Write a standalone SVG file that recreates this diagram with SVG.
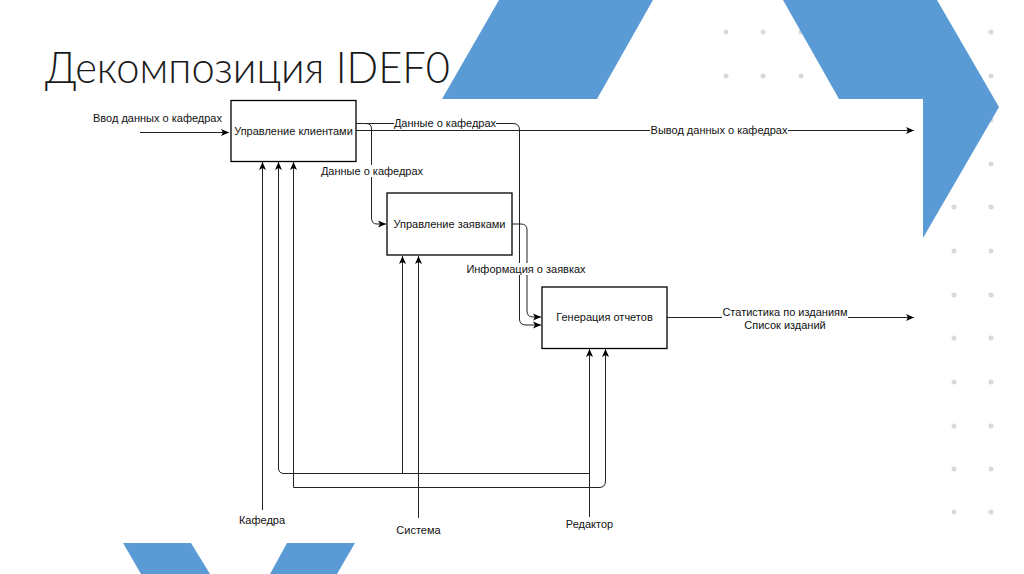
<svg xmlns="http://www.w3.org/2000/svg" width="1024" height="574" viewBox="0 0 1024 574">
<defs>
<marker id="arr" markerUnits="userSpaceOnUse" markerWidth="9" markerHeight="8" refX="8" refY="4" orient="auto">
<path d="M0,0.5 L8,4 L0,7.5 L2,4 Z" fill="#000"/>
</marker>
</defs>
<style>
.blue{fill:#5b9bd5}
.dot{fill:#d9d9d9}
.box{fill:#fff;stroke:#000;stroke-width:1.3}
.t{font-family:"Liberation Sans",Arial,sans-serif;font-size:11px;fill:#111}
.c{fill:none;stroke:#222;stroke-width:1}
.bg{fill:#fff}
</style>
<rect width="1024" height="574" fill="#fff"/>
<g id="decor">
<g id="dots">
<circle class="dot" cx="726" cy="32" r="2.5"/><circle class="dot" cx="763" cy="32" r="2.5"/><circle class="dot" cx="801" cy="32" r="2.5"/>
<circle class="dot" cx="726" cy="76" r="2.5"/><circle class="dot" cx="763" cy="76" r="2.5"/><circle class="dot" cx="801" cy="76" r="2.5"/>
<circle class="dot" cx="991" cy="32" r="2.5"/><circle class="dot" cx="991" cy="76" r="2.5"/><circle class="dot" cx="991" cy="120" r="2.5"/><circle class="dot" cx="991" cy="164" r="2.5"/>
<circle class="dot" cx="954" cy="207" r="2.5"/><circle class="dot" cx="991" cy="207" r="2.5"/>
<circle class="dot" cx="954" cy="251" r="2.5"/><circle class="dot" cx="991" cy="251" r="2.5"/>
<circle class="dot" cx="954" cy="295" r="2.5"/><circle class="dot" cx="991" cy="295" r="2.5"/>
<circle class="dot" cx="954" cy="338" r="2.5"/><circle class="dot" cx="991" cy="338" r="2.5"/>
<circle class="dot" cx="954" cy="382" r="2.5"/><circle class="dot" cx="991" cy="382" r="2.5"/>
<circle class="dot" cx="954" cy="426" r="2.5"/><circle class="dot" cx="991" cy="426" r="2.5"/>
<circle class="dot" cx="954" cy="469" r="2.5"/><circle class="dot" cx="991" cy="469" r="2.5"/>
<circle class="dot" cx="954" cy="512" r="2.5"/><circle class="dot" cx="991" cy="512" r="2.5"/>
</g>
<polygon class="blue" points="499,0 653,0 597,99 442,99"/>
<polygon class="blue" points="783,0 937,0 999,107 923,238 923,99 839,99"/>
<polygon class="blue" points="123,543 191,543 210,574 141,574"/>
<polygon class="blue" points="287,543 355,543 337,574 270,574"/>
</g>
<text id="title" x="45" y="83" font-family="Lato,'Open Sans','Liberation Sans',sans-serif" font-weight="300" font-size="44" fill="#1a1a1a" textLength="405" lengthAdjust="spacingAndGlyphs">Декомпозиция IDEF0</text>
<g id="connectors">
<path class="c" d="M140,132.5 H229" marker-end="url(#arr)"/>
<path class="c" d="M356,130.5 H914" marker-end="url(#arr)"/>
<path class="c" d="M356,123.5 H513 Q519.5,123.5 519.5,130 V319 Q519.5,325 526,325 H541" marker-end="url(#arr)"/>
<path class="c" d="M356,123.5 H366 Q371.5,123.5 371.5,129 V218 Q371.5,224 377,224 H386" marker-end="url(#arr)"/>
<path class="c" d="M512,224 H521 Q527,224 527,230 V311 Q527,317 533,317 H541" marker-end="url(#arr)"/>
<path class="c" d="M667,317.5 H914" marker-end="url(#arr)"/>
<path class="c" d="M262.5,510 V162" marker-end="url(#arr)"/>
<path class="c" d="M589.5,517 V349" marker-end="url(#arr)"/>
<path class="c" d="M589.5,473.5 H284 Q278.5,473.5 278.5,468 V162" marker-end="url(#arr)"/>
<path class="c" d="M402.5,473.5 V256" marker-end="url(#arr)"/>
<path class="c" d="M418.5,518 V256" marker-end="url(#arr)"/>
<path class="c" d="M293.5,487.5 H599 Q605.5,487.5 605.5,481 V349" marker-end="url(#arr)"/>
<path class="c" d="M293.5,487.5 V162" marker-end="url(#arr)"/>
</g>
<g id="labels">
<text class="t" x="93" y="122">Ввод данных о кафедрах</text>
<rect class="bg" x="650" y="124" width="138" height="12"/>
<text class="t" x="719" y="134" text-anchor="middle">Вывод данных о кафедрах</text>
<rect class="bg" x="394" y="117" width="102" height="12"/>
<text class="t" x="445" y="127" text-anchor="middle">Данные о кафедрах</text>
<rect class="bg" x="321" y="165" width="102" height="12"/>
<text class="t" x="372" y="175" text-anchor="middle">Данные о кафедрах</text>
<rect class="bg" x="466" y="263" width="120" height="12"/>
<text class="t" x="526" y="273" text-anchor="middle">Информация о заявках</text>
<rect class="bg" x="722" y="306" width="126" height="26"/>
<text class="t" x="785" y="316" text-anchor="middle">Статистика по изданиям</text>
<text class="t" x="785" y="329" text-anchor="middle">Список изданий</text>
<text class="t" x="262" y="524" text-anchor="middle" font-size="10">Кафедра</text>
<text class="t" x="418.5" y="534" text-anchor="middle">Система</text>
<text class="t" x="589.5" y="528" text-anchor="middle">Редактор</text>
</g>
<g id="node1">
<rect class="box" x="231" y="100.5" width="125" height="61"/>
<text class="t" x="293.5" y="135" text-anchor="middle">Управление клиентами</text>
</g>
<g id="node2">
<rect class="box" x="387" y="193" width="125" height="62"/>
<text class="t" x="449.5" y="228" text-anchor="middle">Управление заявками</text>
</g>
<g id="node3">
<rect class="box" x="542" y="287" width="125" height="61.5"/>
<text class="t" x="604.5" y="321" text-anchor="middle">Генерация отчетов</text>
</g>
</svg>
